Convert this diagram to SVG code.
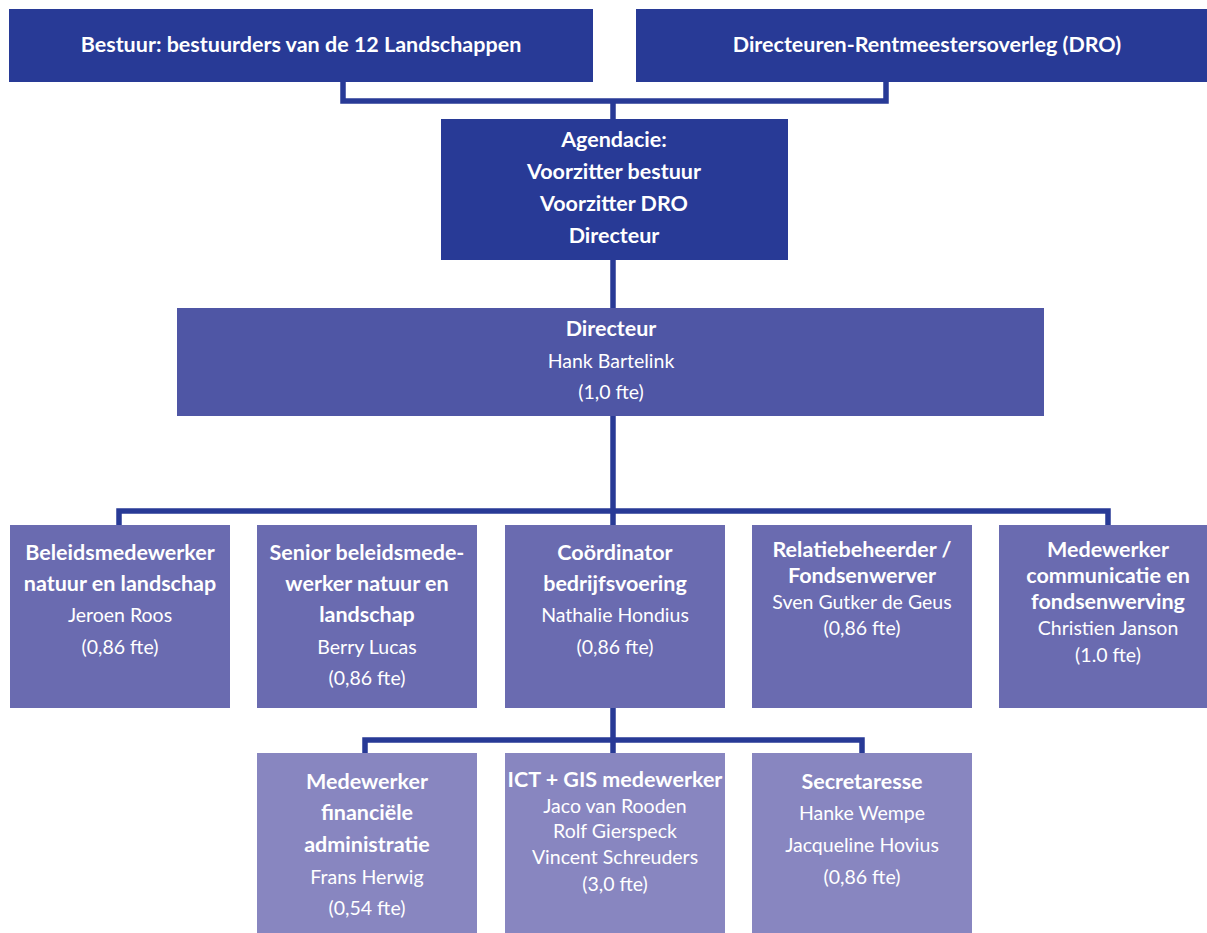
<svg xmlns="http://www.w3.org/2000/svg" width="1207" height="933" viewBox="0 0 1207 933">
<style>
.c1{fill:#283a96}
.c2{fill:#4f56a5}
.c3{fill:#6a6bb0}
.c4{fill:#8886c0}
text{font-family:Lato,"Open Sans","Liberation Sans",sans-serif;fill:#fff;text-anchor:middle;font-size:19.5px}
.b{font-weight:bold;font-size:21.5px}
.conn{fill:none;stroke:#283a96;stroke-width:5.5}
</style>
<rect width="1207" height="933" fill="#fff"/>
<g id="connectors">
<path class="conn" d="M343,82 V101 H886 V82"/>
<path class="conn" d="M613,101 V119"/>
<path class="conn" d="M613,260 V308"/>
<path class="conn" d="M613,416 V525"/>
<path class="conn" d="M119,525 V511 H1108 V525"/>
<path class="conn" d="M613,708 V753"/>
<path class="conn" d="M365,753 V740 H862 V753"/>
</g>
<g id="bestuur"><rect class="c1" x="9" y="9" width="584" height="73"/><text class="b" x="301" y="52">Bestuur: bestuurders van de 12 Landschappen</text></g>
<g id="dro"><rect class="c1" x="636" y="9" width="580" height="73"/><text class="b" x="927" y="52">Directeuren-Rentmeestersoverleg (DRO)</text></g>
<g id="agendacie"><rect class="c1" x="441" y="119" width="347" height="141"/>
<text class="b" x="614" y="147">Agendacie:</text>
<text class="b" x="614" y="179">Voorzitter bestuur</text>
<text class="b" x="614" y="211">Voorzitter DRO</text>
<text class="b" x="614" y="243">Directeur</text></g>
<g id="directeur"><rect class="c2" x="177" y="308" width="867" height="108"/>
<text class="b" x="611" y="336">Directeur</text>
<text x="611" y="368">Hank Bartelink</text>
<text x="611" y="399">(1,0 fte)</text></g>
<g id="beleid"><rect class="c3" x="10" y="525" width="220" height="183"/>
<text class="b" x="120" y="560">Beleidsmedewerker</text>
<text class="b" x="120" y="591">natuur en landschap</text>
<text x="120" y="622">Jeroen Roos</text>
<text x="120" y="654">(0,86 fte)</text></g>
<g id="senior"><rect class="c3" x="257" y="525" width="220" height="183"/>
<text class="b" x="367" y="560">Senior beleidsmede-</text>
<text class="b" x="367" y="591">werker natuur en</text>
<text class="b" x="367" y="622">landschap</text>
<text x="367" y="654">Berry Lucas</text>
<text x="367" y="685">(0,86 fte)</text></g>
<g id="coordinator"><rect class="c3" x="505" y="525" width="220" height="183"/>
<text class="b" x="615" y="560">Coördinator</text>
<text class="b" x="615" y="591">bedrijfsvoering</text>
<text x="615" y="622">Nathalie Hondius</text>
<text x="615" y="654">(0,86 fte)</text></g>
<g id="relatie"><rect class="c3" x="752" y="525" width="220" height="183"/>
<text class="b" x="862" y="557">Relatiebeheerder /</text>
<text class="b" x="862" y="583">Fondsenwerver</text>
<text x="862" y="609">Sven Gutker de Geus</text>
<text x="862" y="635">(0,86 fte)</text></g>
<g id="communicatie"><rect class="c3" x="999" y="525" width="220" height="183"/>
<text class="b" x="1108" y="557">Medewerker</text>
<text class="b" x="1108" y="583">communicatie en</text>
<text class="b" x="1108" y="609">fondsenwerving</text>
<text x="1108" y="635">Christien Janson</text>
<text x="1108" y="662">(1.0 fte)</text></g>
<g id="financieel"><rect class="c4" x="257" y="753" width="220" height="190"/>
<text class="b" x="367" y="789">Medewerker</text>
<text class="b" x="367" y="820">financiële</text>
<text class="b" x="367" y="852">administratie</text>
<text x="367" y="884">Frans Herwig</text>
<text x="367" y="915">(0,54 fte)</text></g>
<g id="ict"><rect class="c4" x="505" y="753" width="220" height="190"/>
<text class="b" x="615" y="787">ICT + GIS medewerker</text>
<text x="615" y="813">Jaco van Rooden</text>
<text x="615" y="838">Rolf Gierspeck</text>
<text x="615" y="864">Vincent Schreuders</text>
<text x="615" y="891">(3,0 fte)</text></g>
<g id="secretaresse"><rect class="c4" x="752" y="753" width="220" height="190"/>
<text class="b" x="862" y="789">Secretaresse</text>
<text x="862" y="820">Hanke Wempe</text>
<text x="862" y="852">Jacqueline Hovius</text>
<text x="862" y="884">(0,86 fte)</text></g>
</svg>
